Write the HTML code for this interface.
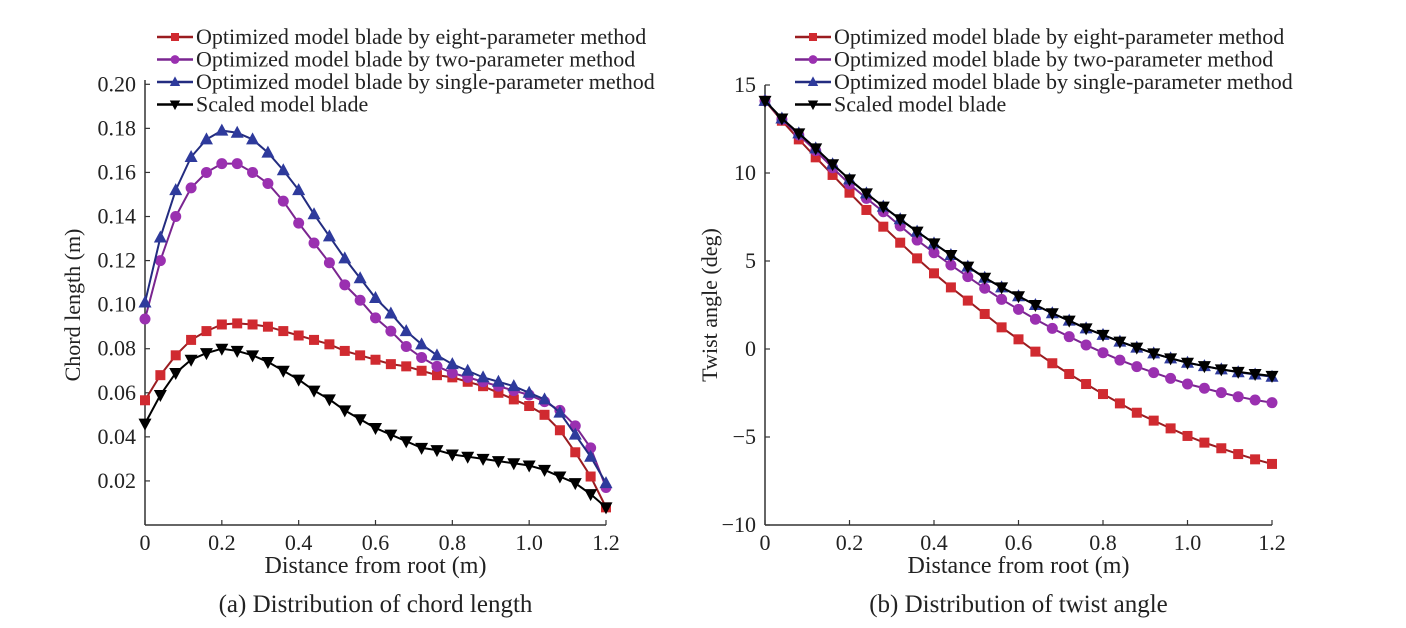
<!DOCTYPE html>
<html><head><meta charset="utf-8"><style>
body{margin:0;background:#fff;}
svg{display:block;font-family:"Liberation Serif",serif;}
</style></head><body>
<svg id="chart" width="1406" height="628" viewBox="0 0 1406 628" xmlns="http://www.w3.org/2000/svg">
<g id="left"></g>
<g id="right"></g>
</svg>
<script>
const xs = [0,0.04,0.08,0.12,0.16,0.2,0.24,0.28,0.32,0.36,0.4,0.44,0.48,0.52,0.56,0.6,0.64,0.68,0.72,0.76,0.8,0.84,0.88,0.92,0.96,1.0,1.04,1.08,1.12,1.16,1.2];
const chordEight = [0.0566,0.068,0.077,0.084,0.088,0.091,0.0915,0.091,0.090,0.088,0.086,0.084,0.082,0.079,0.077,0.075,0.073,0.072,0.070,0.068,0.067,0.065,0.063,0.060,0.057,0.054,0.050,0.043,0.033,0.022,0.008];
const chordTwo = [0.0935,0.120,0.140,0.153,0.160,0.164,0.164,0.160,0.155,0.147,0.137,0.128,0.119,0.109,0.102,0.094,0.088,0.081,0.076,0.072,0.069,0.067,0.065,0.063,0.061,0.059,0.056,0.052,0.045,0.035,0.017];
const chordSingle = [0.101,0.1305,0.152,0.167,0.175,0.179,0.178,0.175,0.169,0.161,0.152,0.141,0.131,0.121,0.112,0.103,0.096,0.088,0.082,0.077,0.073,0.070,0.067,0.065,0.063,0.060,0.057,0.051,0.041,0.031,0.019];
const chordScaled = [0.046,0.059,0.069,0.075,0.078,0.080,0.079,0.077,0.074,0.070,0.066,0.061,0.057,0.052,0.048,0.044,0.041,0.038,0.035,0.034,0.032,0.031,0.030,0.029,0.028,0.027,0.025,0.022,0.019,0.014,0.008];
const twistEight = [14.1,12.97,11.91,10.89,9.89,8.88,7.9,6.95,6.04,5.15,4.3,3.5,2.75,1.99,1.23,0.55,-0.15,-0.81,-1.42,-1.99,-2.56,-3.09,-3.62,-4.07,-4.51,-4.94,-5.32,-5.64,-5.97,-6.27,-6.53];
const twistTwo = [14.1,13.05,12.16,11.27,10.3,9.37,8.56,7.8,6.99,6.19,5.47,4.77,4.11,3.45,2.82,2.25,1.69,1.17,0.7,0.23,-0.21,-0.63,-1.0,-1.34,-1.67,-1.99,-2.23,-2.48,-2.71,-2.9,-3.05];
const twistSingle = [14.1,13.1,12.25,11.4,10.5,9.64,8.84,8.09,7.37,6.67,6.0,5.34,4.68,4.05,3.5,3.0,2.5,2.03,1.61,1.17,0.8,0.42,0.08,-0.25,-0.53,-0.78,-0.97,-1.16,-1.32,-1.45,-1.58];
const twistScaled = [14.1,13.1,12.25,11.4,10.5,9.64,8.84,8.09,7.37,6.67,6.0,5.34,4.68,4.05,3.5,3.0,2.5,2.03,1.61,1.17,0.8,0.42,0.08,-0.25,-0.53,-0.78,-0.97,-1.16,-1.3,-1.42,-1.53];
const xTicks = [0,0.2,0.4,0.6,0.8,1.0,1.2];
const xTickLabels = ["0","0.2","0.4","0.6","0.8","1.0","1.2"];
const chordTicks = [0.02,0.04,0.06,0.08,0.10,0.12,0.14,0.16,0.18,0.20];
const twistTicks = [-10,-5,0,5,10,15];
const seriesNames = ["Optimized model blade by eight-parameter method","Optimized model blade by two-parameter method","Optimized model blade by single-parameter method","Scaled model blade"];

const NS="http://www.w3.org/2000/svg";
const FS=22;
function mk(parent,tag,attrs,text){const e=document.createElementNS(NS,tag);for(const k in attrs)e.setAttribute(k,attrs[k]);if(text!==undefined)e.textContent=text;parent.appendChild(e);return e;}
const styles=[
 {fill:"#d02a30",line:"#9a1c20",shape:"square"},
 {fill:"#9a30b0",line:"#7a2590",shape:"circle"},
 {fill:"#2e3a9c",line:"#232c80",shape:"tri"},
 {fill:"#000",line:"#000",shape:"tridown"}];
function marker(g,shape,x,y,s,sc){
  sc=sc||1;let e;
  if(shape==="square")e=mk(g,"rect",{x:x-5*sc,y:y-5*sc,width:10*sc,height:10*sc,fill:s.fill});
  else if(shape==="circle")e=mk(g,"circle",{cx:x,cy:y,r:5.5*sc,fill:s.fill});
  else if(shape==="tri")e=mk(g,"polygon",{points:`${x},${y-7*sc} ${x-6.5*sc},${y+5*sc} ${x+6.5*sc},${y+5*sc}`,fill:s.fill});
  else e=mk(g,"polygon",{points:`${x},${y+7*sc} ${x-6.5*sc},${y-5*sc} ${x+6.5*sc},${y-5*sc}`,fill:s.fill});
  
  
}
function chart(gid,o){
  const g=document.getElementById(gid);
  const X=v=>o.x0+(v-0)/1.2*(o.x1-o.x0);
  const Y=v=>o.y0-(v-o.ymin)/(o.ymax-o.ymin)*(o.y0-o.y1);
  const ax=mk(g,"g",{});
  
  
  mk(ax,"line",{x1:o.x0,y1:o.y0,x2:o.x1,y2:o.y0,stroke:"#333","stroke-width":1.5});
  mk(ax,"line",{x1:o.x0,y1:o.y0,x2:o.x0,y2:o.ytop,stroke:"#333","stroke-width":1.5});
  xTicks.forEach((t,i)=>{const x=X(t);mk(ax,"line",{x1:x,y1:o.y0,x2:x,y2:o.y0-5,stroke:"#333","stroke-width":1.2});
    const l=mk(ax,"text",{x:x,y:o.y0+25,"text-anchor":"middle","font-size":FS,fill:"#222"},xTickLabels[i]);
    });
  o.ticks.forEach(t=>{const y=Y(t);mk(ax,"line",{x1:o.x0,y1:y,x2:o.x0+5,y2:y,stroke:"#333","stroke-width":1.2});
    const l=mk(ax,"text",{x:o.x0-9,y:y+7,"text-anchor":"end","font-size":FS,fill:"#222"},o.fmt(t));
    });
  const xt=mk(g,"text",{x:(o.x0+o.x1)/2,y:o.y0+48,"text-anchor":"middle","font-size":24,fill:"#222"},"Distance from root (m)");
  
  const yt=mk(g,"text",{x:0,y:0,"text-anchor":"middle","font-size":FS,fill:"#222",transform:`translate(${o.ytx},${o.yty}) rotate(-90)`},o.ytitle);
  
  const cap=mk(g,"text",{x:(o.x0+o.x1)/2,y:612,"text-anchor":"middle","font-size":25,fill:"#222"},o.caption);
  
  o.data.forEach((d,k)=>{
    const s=styles[k];
    const sg=mk(g,"g",{});
    
    
    mk(sg,"polyline",{points:d.map((v,i)=>X(xs[i])+","+Y(v)).join(" "),fill:"none",stroke:s.line,"stroke-width":2});
    d.forEach((v,i)=>marker(sg,s.shape,X(xs[i]),Y(v),s));
  });
  const lg=mk(g,"g",{});
  
  
  seriesNames.forEach((n,k)=>{
    const s=styles[k];const y=o.ly+k*22.5;
    const e=mk(lg,"g",{});
    
    
    mk(e,"line",{x1:o.lx,y1:y,x2:o.lx+36,y2:y,stroke:s.line,"stroke-width":2.5});
    marker(e,s.shape,o.lx+18,y,s,0.8);
    mk(e,"text",{x:o.lx+39,y:y+7,"font-size":FS,fill:"#222"},n);
  });
}
chart("left",{x0:145,x1:606,y0:525,y1:84.3,ymin:0,ymax:0.2,ytop:80,ticks:chordTicks,fmt:t=>t.toFixed(2),
  data:[chordEight,chordTwo,chordSingle,chordScaled],ytitle:"Chord length (m)",ytx:80,yty:305,caption:"(a) Distribution of chord length",lx:157,ly:37});
chart("right",{x0:765,x1:1272,y0:525,y1:85,ymin:-10,ymax:15,ytop:85,ticks:twistTicks,fmt:t=>t<0?"\u2212"+(-t):String(t),
  data:[twistEight,twistTwo,twistSingle,twistScaled],ytitle:"Twist angle (deg)",ytx:717,yty:305,caption:"(b) Distribution of twist angle",lx:795,ly:37});
</script>
</body></html>
